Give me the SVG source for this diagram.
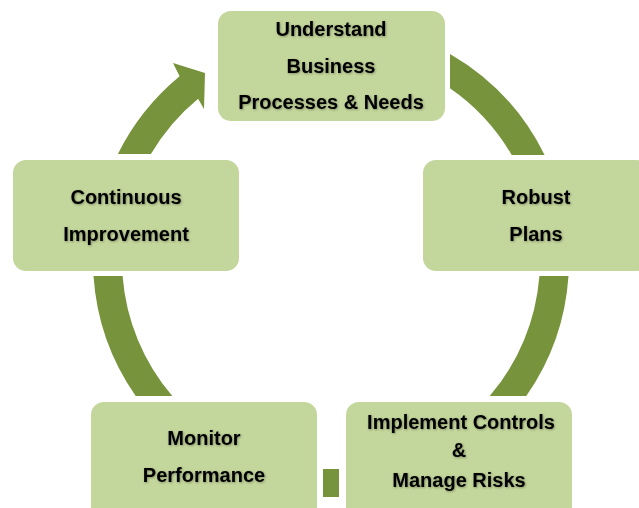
<svg xmlns="http://www.w3.org/2000/svg" width="639" height="508" viewBox="0 0 639 508">
  <defs>
    <filter id="tshadow" x="-10%" y="-30%" width="120%" height="160%">
      <feDropShadow dx="0.8" dy="0.8" stdDeviation="0.8" flood-color="#000000" flood-opacity="0.35"/>
    </filter>
  </defs>
  <style>
    .box { fill: #C3D69B; }
    .arc { fill: #77933C; }
    .lbl { font-family: "Liberation Sans", Arial, sans-serif; font-weight: bold; font-size: 20px; fill: #000; text-anchor: middle; filter: url(#tshadow); }
  </style>
  <rect width="639" height="508" fill="#FFFFFF"/>
  <g id="connectors">
    <path class="arc" d="M 450 53.9 A 238 238 0 0 1 544.6 155 L 511.7 155 A 209 209 0 0 0 450 88.2 Z"/>
    <path class="arc" d="M 568.5 276 A 238 238 0 0 1 526.3 396 L 489.7 396 A 209 209 0 0 0 539.4 276 Z"/>
    <path class="arc" d="M 323 469 L 339 469 L 339 497 L 323 497 Z"/>
    <path class="arc" d="M 93.5 276 A 238 238 0 0 0 135.7 396 L 172.3 396 A 209 209 0 0 1 122.6 276 Z"/>
    <path class="arc" d="M 117.9 154 A 238 238 0 0 1 179.6 76.3 L 173 63 L 205 73 L 204 109 L 198.1 98.7 A 209 209 0 0 0 150.9 154 Z"/>
  </g>
  <g id="node-understand">
    <rect class="box" x="218" y="11" width="227" height="110" rx="13"/>
    <text class="lbl" x="331" y="36">Understand</text>
    <text class="lbl" x="331" y="73">Business</text>
    <text class="lbl" x="331" y="109">Processes &amp; Needs</text>
  </g>
  <g id="node-robust">
    <rect class="box" x="423" y="160" width="226" height="111" rx="13"/>
    <text class="lbl" x="536" y="204">Robust</text>
    <text class="lbl" x="536" y="241">Plans</text>
  </g>
  <g id="node-implement">
    <rect class="box" x="346" y="402" width="226" height="120" rx="13"/>
    <text class="lbl" x="461" y="429">Implement Controls</text>
    <text class="lbl" x="459" y="457">&amp;</text>
    <text class="lbl" x="459" y="487">Manage Risks</text>
  </g>
  <g id="node-monitor">
    <rect class="box" x="91" y="402" width="226" height="120" rx="13"/>
    <text class="lbl" x="204" y="445">Monitor</text>
    <text class="lbl" x="204" y="482">Performance</text>
  </g>
  <g id="node-continuous">
    <rect class="box" x="13" y="160" width="226" height="111" rx="13"/>
    <text class="lbl" x="126" y="204">Continuous</text>
    <text class="lbl" x="126" y="241">Improvement</text>
  </g>
</svg>
